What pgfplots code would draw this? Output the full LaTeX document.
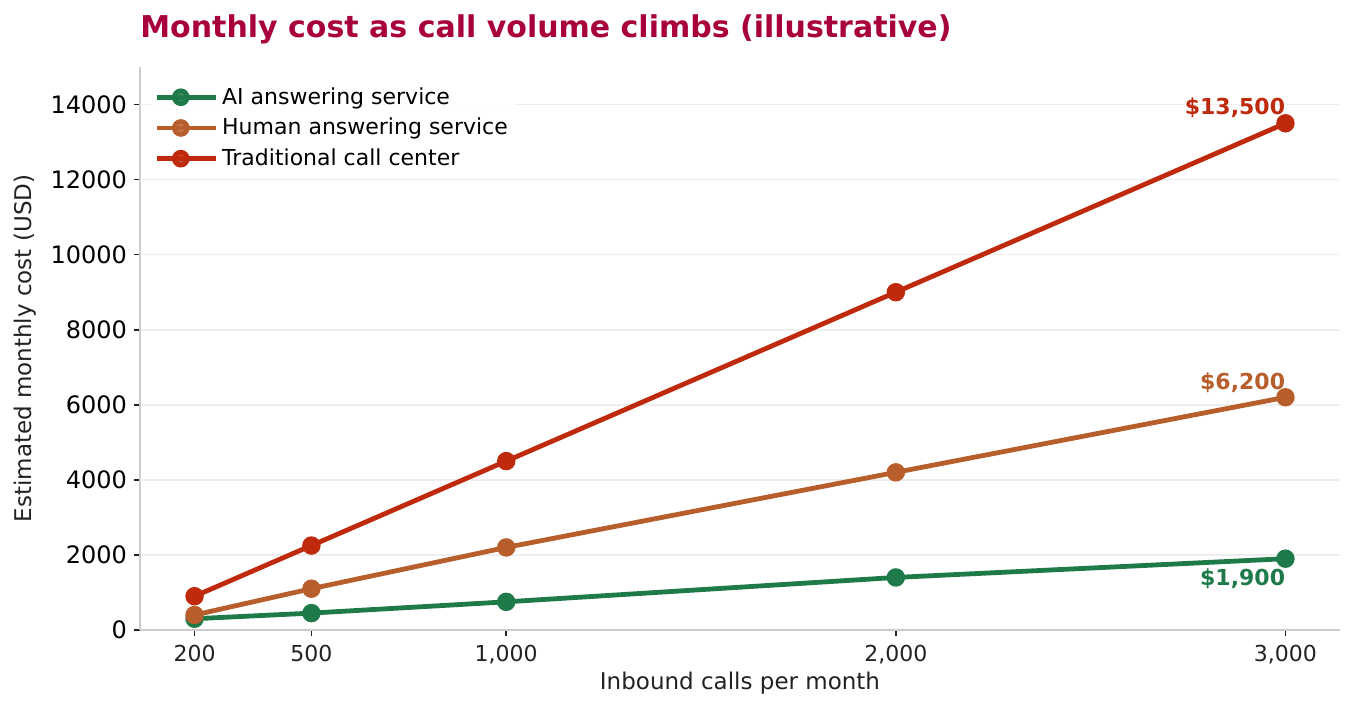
\documentclass[border=0pt]{standalone}
\usepackage{fontspec}
\setmainfont{DejaVu Sans}
\usepackage{pgfplots}
\pgfplotsset{compat=1.18}
\definecolor{cgreen}{HTML}{1E7A48}
\definecolor{corange}{HTML}{B85E2C}
\definecolor{cred}{HTML}{BF2A0C}
\definecolor{ctitle}{HTML}{A8003C}
\definecolor{cgrid}{HTML}{EEEEEE}
\definecolor{caxis}{HTML}{CCCCCC}
\definecolor{ctext}{HTML}{222222}
\begin{document}
\begin{tikzpicture}
\begin{axis}[
  scale only axis,
  width=600pt, height=281.5pt,
  at={(0,0)}, anchor=south west,
  xmin=60, xmax=3140,
  ymin=0, ymax=15000,
  xtick={200,500,1000,2000,3000},
  xticklabels={200,500,{1,000},{2,000},{3,000}},
  ytick={0,2000,4000,6000,8000,10000,12000,14000},
  /pgf/number format/assume math mode=true,
  /pgf/number format/1000 sep={},
  scaled y ticks=false,
  axis lines*=left,
  axis line style={caxis, line width=0.8pt},
  tick style={ctext, line width=0.8pt},
  tick align=outside,
  major tick length=3pt,
  ymajorgrids=true,
  grid style={cgrid, line width=0.8pt},
  xticklabel style={font=\fontsize{11}{13}\selectfont, text=ctext, yshift=-1pt},
  yticklabel style={font=\fontsize{12}{14}\selectfont, text=black},
  xlabel={Inbound calls per month},
  ylabel={Estimated monthly cost (USD)},
  every axis x label/.style={at={(axis description cs:0.5,0)}, anchor=center, yshift=-26.5pt, font=\fontsize{11.5}{13}\selectfont, text=ctext},
  every axis y label/.style={at={(axis description cs:0,0.5)}, xshift=-57.5pt, anchor=center, rotate=90, font=\fontsize{11.5}{13}\selectfont, text=ctext},
  legend style={at={(5pt,275.5pt)}, anchor=north west, draw=none, fill=white, fill opacity=0.8, text opacity=1,
    font=\fontsize{11}{13}\selectfont, row sep=1.5pt, inner sep=2pt},
  legend cell align=left,
  legend image code/.code={
    \path (0pt,0pt) -- (29.5pt,0pt);
    \draw[#1, mark=none, line width=2.4pt] (0pt,0pt) -- (24pt,0pt);
    \fill[#1] (12pt,0pt) circle (3.2pt);
  },
  clip=false,
]
\addplot[cgreen, line width=2.4pt, mark=*, mark size=3.4pt, mark options={solid, fill=cgreen, draw=none}]
  coordinates {(200,300) (500,450) (1000,750) (2000,1400) (3000,1900)};
\addlegendentry{AI answering service}
\addplot[corange, line width=2.4pt, mark=*, mark size=3.4pt, mark options={solid, fill=corange, draw=none}]
  coordinates {(200,400) (500,1100) (1000,2200) (2000,4200) (3000,6200)};
\addlegendentry{Human answering service}
\addplot[cred, line width=2.4pt, mark=*, mark size=3.4pt, mark options={solid, fill=cred, draw=none}]
  coordinates {(200,900) (500,2250) (1000,4500) (2000,9000) (3000,13500)};
\addlegendentry{Traditional call center}
\node[anchor=base east, text=cred, font=\bfseries\fontsize{11}{13}\selectfont, yshift=4.5pt, inner sep=0pt] at (axis cs:3000,13500) {\$13,500};
\node[anchor=base east, text=corange, font=\bfseries\fontsize{11}{13}\selectfont, yshift=4pt, inner sep=0pt] at (axis cs:3000,6200) {\$6,200};
\node[anchor=base east, text=cgreen, font=\bfseries\fontsize{11}{13}\selectfont, yshift=-13.5pt, inner sep=0pt] at (axis cs:3000,1900) {\$1,900};
\end{axis}
\node[anchor=base west, text=ctitle, font=\bfseries\fontsize{15}{17}\selectfont, inner sep=0pt] at (0pt,296pt) {Monthly cost as call volume climbs (illustrative)};
\pgfresetboundingbox
\path[use as bounding box] (-70pt,-40.5pt) rectangle (608pt,315pt);
\end{tikzpicture}
\end{document}
